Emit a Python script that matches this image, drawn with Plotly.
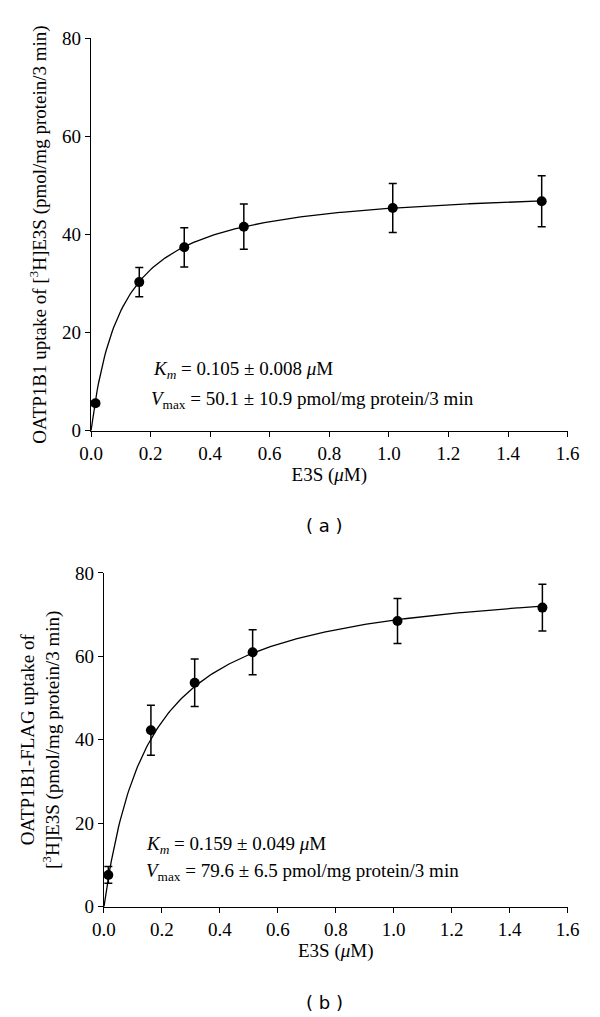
import numpy as np
import plotly.graph_objects as go

# ---- data ----
conc_a = [0.015, 0.162, 0.313, 0.513, 1.013, 1.513]
uptake_a = [5.6, 30.3, 37.4, 41.6, 45.4, 46.8]
err_a = [0.5, 3.0, 4.0, 4.6, 5.0, 5.2]
km_a, vmax_a = 0.105, 50.1

conc_b = [0.015, 0.162, 0.313, 0.513, 1.013, 1.513]
uptake_b = [7.6, 42.3, 53.7, 61.0, 68.5, 71.7]
err_b = [2.0, 6.0, 5.7, 5.4, 5.4, 5.6]
km_b, vmax_b = 0.159, 79.6

x_ticks = [0.0, 0.2, 0.4, 0.6, 0.8, 1.0, 1.2, 1.4, 1.6]
x_ticklabels = ["0.0", "0.2", "0.4", "0.6", "0.8", "1.0", "1.2", "1.4", "1.6"]
y_ticks = [0, 20, 40, 60, 80]

# Michaelis-Menten fit curves from the stated parameters
xfit = np.linspace(0, 1.513, 300)
fit_a = vmax_a * xfit / (km_a + xfit)
fit_b = vmax_b * xfit / (km_b + xfit)

SERIF = "Liberation Serif, Times New Roman, serif"
FS = 19
fig = go.Figure()

for xs, ys, es, fy, xa, ya in [
    (conc_a, uptake_a, err_a, fit_a, "x", "y"),
    (conc_b, uptake_b, err_b, fit_b, "x2", "y2"),
]:
    fig.add_trace(go.Scatter(x=xfit, y=fy, mode="lines", xaxis=xa, yaxis=ya,
                             line=dict(color="black", width=1.3), showlegend=False,
                             cliponaxis=False))
    fig.add_trace(go.Scatter(x=xs, y=ys, mode="markers", xaxis=xa, yaxis=ya,
                             marker=dict(color="black", size=10),
                             error_y=dict(type="data", array=es, visible=True,
                                          color="black", thickness=1.5, width=4),
                             showlegend=False, cliponaxis=False))

axis_common = dict(showline=True, linecolor="black", linewidth=1.3, ticks="outside",
                   ticklen=5, tickwidth=1.2, tickcolor="black", showgrid=False,
                   zeroline=False, tickfont=dict(family=SERIF, size=FS, color="black"),
                   mirror=False, automargin=False)
title_font = dict(family=SERIF, size=FS, color="black")

fig.update_layout(
    width=600, height=1017,
    margin=dict(l=0, r=0, t=0, b=0),
    plot_bgcolor="white", paper_bgcolor="white",
    font=dict(family=SERIF, size=FS, color="black"),
    xaxis=dict(domain=[0.1517, 0.946], anchor="y", range=[0, 1.6],
               tickvals=x_ticks, ticktext=x_ticklabels,
               title=dict(text="E3S (<i>μ</i>M)", font=title_font, standoff=4),
               **axis_common),
    yaxis=dict(domain=[0.5765, 0.9623], anchor="x", range=[0, 80], tickvals=y_ticks,
               title=dict(text="OATP1B1 uptake of [<sup>3</sup>H]E3S (pmol/mg protein/3 min)",
                          font=title_font, standoff=10),
               **axis_common),
    xaxis2=dict(domain=[0.1733, 0.946], anchor="y2", range=[0, 1.6],
                tickvals=x_ticks, ticktext=x_ticklabels,
                title=dict(text="E3S (<i>μ</i>M)", font=title_font, standoff=4),
                **axis_common),
    yaxis2=dict(domain=[0.1085, 0.4366], anchor="x2", range=[0, 80], tickvals=y_ticks,
                title=dict(text="OATP1B1-FLAG uptake of<br>[<sup>3</sup>H]E3S (pmol/mg protein/3 min)",
                           font=title_font, standoff=10),
                **axis_common),
)

ann_font = dict(family=SERIF, size=FS, color="black")
annotations = [
    dict(xref="paper", yref="paper", x=151 / 600, y=1 - 370 / 1017, xanchor="left", yanchor="middle",
         text="<i>K<sub>m</sub></i> = 0.105 ± 0.008 <i>μ</i>M", showarrow=False, font=ann_font),
    dict(xref="paper", yref="paper", x=149 / 600, y=1 - 400 / 1017, xanchor="left", yanchor="middle",
         text="<i>V</i><sub>max</sub> = 50.1 ± 10.9 pmol/mg protein/3 min", showarrow=False, font=ann_font),
    dict(xref="paper", yref="paper", x=144 / 600, y=1 - 845 / 1017, xanchor="left", yanchor="middle",
         text="<i>K<sub>m</sub></i> = 0.159 ± 0.049 <i>μ</i>M", showarrow=False, font=ann_font),
    dict(xref="paper", yref="paper", x=144 / 600, y=1 - 872 / 1017, xanchor="left", yanchor="middle",
         text="<i>V</i><sub>max</sub> = 79.6 ± 6.5 pmol/mg protein/3 min", showarrow=False, font=ann_font),
    dict(xref="paper", yref="paper", x=324 / 600, y=1 - 525 / 1017, xanchor="center", yanchor="middle",
         text="( a )", showarrow=False, font=dict(family="DejaVu Sans", size=18, color="black")),
    dict(xref="paper", yref="paper", x=324 / 600, y=1 - 1002 / 1017, xanchor="center", yanchor="middle",
         text="( b )", showarrow=False, font=dict(family="DejaVu Sans", size=18, color="black")),
]
fig.update_layout(annotations=annotations)

fig.write_html("out.html", config={"displayModeBar": False},
               post_script="document.body.style.margin='0';document.body.style.overflow='hidden';")
